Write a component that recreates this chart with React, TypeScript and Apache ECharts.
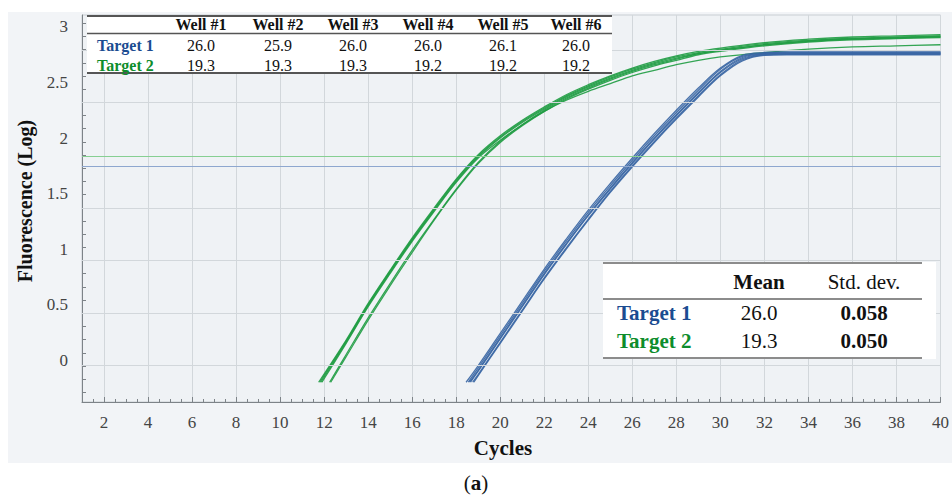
import React, { useEffect, useRef } from 'react';
import * as echarts from 'echarts';

// ---------- data ----------
const xTickLabels = [2, 4, 6, 8, 10, 12, 14, 16, 18, 20, 22, 24, 26, 28, 30, 32, 34, 36, 38, 40];
const yTickLabels = [0, 0.5, 1, 1.5, 2, 2.5, 3];
const yGridValues = [-0.054, 0.421, 0.896, 1.37, 1.845, 2.32, 2.795];

const thresholdTarget1 = 1.748;
const thresholdTarget2 = 1.838;
const startLevel = -0.2;

const wells = ['Well #1', 'Well #2', 'Well #3', 'Well #4', 'Well #5', 'Well #6'];
const target1Ct = [26.0, 25.9, 26.0, 26.0, 26.1, 26.0];
const target2Ct = [19.3, 19.3, 19.3, 19.2, 19.2, 19.2];

const summaryHeaders = ['Mean', 'Std. dev.'];
const target1Summary = ['26.0', '0.058'];
const target2Summary = ['19.3', '0.050'];

// Target 2 (green) amplification curves
const greenCycles = [13, 14, 15, 16, 17, 18, 19, 20, 21, 22, 23, 24, 25, 26, 27, 28, 29, 30, 32, 34, 36, 38, 40];
const greenStarts = [11.75, 11.8, 11.85, 11.9, 12.25, 12.3];
const greenWell1 = [0.18, 0.51, 0.81, 1.10, 1.37, 1.63, 1.85, 2.02, 2.16, 2.28, 2.39, 2.48, 2.56, 2.63, 2.69, 2.74, 2.78, 2.81, 2.86, 2.89, 2.91, 2.92, 2.93];
const greenWell2 = [0.17, 0.50, 0.80, 1.09, 1.36, 1.62, 1.84, 2.01, 2.15, 2.27, 2.38, 2.47, 2.55, 2.62, 2.68, 2.73, 2.77, 2.80, 2.85, 2.88, 2.90, 2.91, 2.92];
const greenWell3 = [0.16, 0.49, 0.79, 1.08, 1.35, 1.61, 1.83, 2.00, 2.14, 2.26, 2.37, 2.46, 2.54, 2.61, 2.67, 2.72, 2.76, 2.79, 2.84, 2.87, 2.89, 2.90, 2.91];
const greenWell4 = [0.15, 0.48, 0.78, 1.07, 1.34, 1.60, 1.82, 1.98, 2.12, 2.24, 2.34, 2.42, 2.49, 2.56, 2.61, 2.66, 2.70, 2.73, 2.77, 2.80, 2.82, 2.83, 2.84];
const greenWell5 = [0.05, 0.38, 0.69, 0.99, 1.27, 1.54, 1.78, 1.97, 2.12, 2.25, 2.36, 2.45, 2.53, 2.60, 2.66, 2.71, 2.76, 2.79, 2.84, 2.875, 2.895, 2.905, 2.915];
const greenWell6 = [0.03, 0.36, 0.67, 0.97, 1.26, 1.53, 1.77, 1.96, 2.11, 2.24, 2.35, 2.44, 2.52, 2.59, 2.65, 2.70, 2.75, 2.78, 2.83, 2.865, 2.885, 2.895, 2.905];

// Target 1 (blue) amplification curves
const blueCycles = [19, 20, 21, 22, 23, 24, 25, 26, 27, 28, 29, 30, 31, 32, 33, 35, 37, 40];
const blueStarts = [18.45, 18.55, 18.6, 18.65, 18.75, 18.8];
const blueWell1 = [-0.05, 0.24, 0.53, 0.82, 1.09, 1.35, 1.59, 1.82, 2.04, 2.25, 2.45, 2.63, 2.745, 2.77, 2.775, 2.775, 2.775, 2.775];
const blueWell2 = [-0.07, 0.22, 0.51, 0.80, 1.07, 1.33, 1.57, 1.80, 2.02, 2.23, 2.43, 2.62, 2.735, 2.765, 2.77, 2.77, 2.77, 2.77];
const blueWell3 = [-0.09, 0.20, 0.49, 0.78, 1.05, 1.31, 1.55, 1.78, 2.00, 2.21, 2.41, 2.60, 2.725, 2.76, 2.765, 2.765, 2.765, 2.765];
const blueWell4 = [-0.10, 0.19, 0.48, 0.77, 1.04, 1.30, 1.54, 1.77, 1.99, 2.20, 2.40, 2.59, 2.715, 2.755, 2.76, 2.76, 2.76, 2.76];
const blueWell5 = [-0.13, 0.16, 0.45, 0.74, 1.01, 1.27, 1.52, 1.75, 1.97, 2.18, 2.38, 2.57, 2.705, 2.75, 2.755, 2.755, 2.755, 2.755];
const blueWell6 = [-0.14, 0.15, 0.44, 0.73, 1.00, 1.26, 1.51, 1.74, 1.96, 2.17, 2.37, 2.56, 2.695, 2.745, 2.75, 2.75, 2.75, 2.75];

const greenWells = [greenWell1, greenWell2, greenWell3, greenWell4, greenWell5, greenWell6];
const blueWells = [blueWell1, blueWell2, blueWell3, blueWell4, blueWell5, blueWell6];

// ---------- styling ----------
const SERIF = '"Liberation Serif", "DejaVu Serif", serif';
const BLUE_TXT = '#1b4c91';
const GREEN_TXT = '#0d8d2c';
const GREEN_LINE = '#1f9c43';
const BLUE_LINE = '#3765a3';

const Y_MIN = -0.378;
const Y_MAX = 3.108;

export default function App() {
  const ref = useRef<HTMLDivElement>(null);

  useEffect(() => {
    document.body.style.margin = '0';
    if (!ref.current) return;
    const chart = echarts.init(ref.current, undefined, { renderer: 'svg' });

    const buildSeries = (name: string, start: number, cycles: number[], vals: number[], color: string) => ({
      type: 'line',
      name,
      xAxisIndex: 0,
      yAxisIndex: 0,
      data: [[start, startLevel], ...cycles.map((c, i) => [c, vals[i]])],
      smooth: 0.35,
      symbol: 'none',
      showSymbol: false,
      silent: true,
      lineStyle: { color, width: 1.3, opacity: 0.9 },
      z: 3,
    });

    const series: any[] = [];
    // gridlines + thresholds (reference lines across the plot)
    series.push({
      type: 'line',
      name: 'grid',
      data: [],
      silent: true,
      z: 1,
      markLine: {
        silent: true,
        symbol: 'none',
        label: { show: false },
        lineStyle: { color: '#d2d7db', width: 1, type: 'solid' },
        data: yGridValues.map((v) => ({ yAxis: v })),
      },
    });
    series.push({
      type: 'line',
      name: 'thresholds',
      data: [],
      silent: true,
      z: 2,
      markLine: {
        silent: true,
        symbol: 'none',
        label: { show: false },
        data: [
          { yAxis: thresholdTarget2, lineStyle: { color: '#86cf92', width: 1, type: 'solid' } },
          { yAxis: thresholdTarget1, lineStyle: { color: '#8ea7cf', width: 1, type: 'solid' } },
        ],
      },
    });
    greenWells.forEach((w, i) => series.push(buildSeries('Target 2 ' + wells[i], greenStarts[i], greenCycles, w, GREEN_LINE)));
    blueWells.forEach((w, i) => series.push(buildSeries('Target 1 ' + wells[i], blueStarts[i], blueCycles, w, BLUE_LINE)));

    // tick positions on the left axis (layout only)
    const gridStep = yGridValues[1] - yGridValues[0];
    const yTicks: number[] = [];
    for (let v = yGridValues[0] - gridStep; v < Y_MAX; v += gridStep / 4) {
      if (v > Y_MIN) yTicks.push(+v.toFixed(4));
    }
    const minorX: number[] = [];
    for (let c = 1.5; c < 40; c += 0.5) {
      if (!xTickLabels.includes(c)) minorX.push(c);
    }

    // ---------- graphic: panel, tables, titles ----------
    const g: any[] = [];
    g.push({ type: 'rect', z: -10, shape: { x: 8, y: 12, width: 944, height: 451 }, style: { fill: '#f2f4f7' } });
    const txt = (text: string, x: number, y: number, font: string, fill = '#111', align = 'center') => ({
      type: 'text',
      z: 60,
      x,
      y,
      style: { text, font, fill, align, verticalAlign: 'middle' },
    });
    const hline = (x1: number, x2: number, y: number, w: number, stroke = '#555') => ({
      type: 'line',
      z: 60,
      shape: { x1, y1: y, x2, y2: y },
      style: { stroke, lineWidth: w },
    });

    // top table
    const colX = [201, 278, 353, 428, 503, 576];
    g.push({ type: 'rect', z: 55, shape: { x: 87, y: 15, width: 525, height: 59 }, style: { fill: '#ffffff' } });
    g.push(hline(87, 612, 16, 2));
    g.push(hline(87, 612, 33.5, 1.5));
    g.push(hline(87, 612, 73, 2));
    wells.forEach((w, i) => g.push(txt(w, colX[i], 24.5, `bold 16px ${SERIF}`)));
    g.push(txt('Target 1', 97, 45, `bold 16px ${SERIF}`, BLUE_TXT, 'left'));
    g.push(txt('Target 2', 97, 65, `bold 16px ${SERIF}`, GREEN_TXT, 'left'));
    target1Ct.forEach((v, i) => g.push(txt(v.toFixed(1), colX[i], 45, `16px ${SERIF}`)));
    target2Ct.forEach((v, i) => g.push(txt(v.toFixed(1), colX[i], 65, `16px ${SERIF}`)));

    // bottom-right summary table
    const sumX = [759, 864];
    g.push({ type: 'rect', z: 55, shape: { x: 603, y: 262, width: 333, height: 97 }, style: { fill: '#ffffff' } });
    g.push(hline(603, 922, 263, 1.5, '#666'));
    g.push(hline(603, 922, 299, 1.5, '#666'));
    g.push(hline(603, 922, 358, 1.5, '#666'));
    summaryHeaders.forEach((h, i) => g.push(txt(h, sumX[i], 282, `${i === 0 ? 'bold ' : ''}21px ${SERIF}`)));
    g.push(txt('Target 1', 617, 313, `bold 21px ${SERIF}`, BLUE_TXT, 'left'));
    g.push(txt('Target 2', 617, 341, `bold 21px ${SERIF}`, GREEN_TXT, 'left'));
    g.push(txt(target1Summary[0], sumX[0], 313, `21px ${SERIF}`));
    g.push(txt(target1Summary[1], sumX[1], 313, `bold 21px ${SERIF}`));
    g.push(txt(target2Summary[0], sumX[0], 341, `21px ${SERIF}`));
    g.push(txt(target2Summary[1], sumX[1], 341, `bold 21px ${SERIF}`));

    // axis titles and caption
    g.push({
      type: 'text',
      z: 60,
      x: 25,
      y: 201,
      rotation: Math.PI / 2,
      style: { text: 'Fluorescence (Log)', font: `bold 20px ${SERIF}`, fill: '#111', align: 'center', verticalAlign: 'middle' },
    });
    g.push(txt('Cycles', 503, 448, `bold 21px ${SERIF}`));
    g.push({
      type: 'text',
      z: 60,
      x: 476,
      y: 483,
      style: {
        text: '{p|(}{b|a}{p|)}',
        align: 'center',
        verticalAlign: 'middle',
        rich: {
          p: { font: `21px ${SERIF}`, fill: '#111' },
          b: { font: `bold 21px ${SERIF}`, fill: '#111' },
        },
      },
    });

    const axisGray = '#7d8388';
    const option: any = {
      animation: false,
      backgroundColor: '#ffffff',
      grid: {
        left: 82,
        right: 10,
        top: 15,
        bottom: 93,
        show: true,
        backgroundColor: '#eff2f5',
        borderColor: '#c9ced3',
        borderWidth: 1,
      },
      xAxis: [
        {
          type: 'value',
          min: 1,
          max: 40,
          axisLine: { show: true, onZero: false, lineStyle: { color: axisGray } },
          axisTick: { show: true, inside: true, length: 5, customValues: xTickLabels, lineStyle: { color: axisGray } },
          axisLabel: { customValues: xTickLabels, fontFamily: SERIF, fontSize: 17, color: '#444', margin: 12 },
          splitLine: { show: true, lineStyle: { color: '#d2d7db', width: 1 } },
        },
        {
          type: 'value',
          min: 1,
          max: 40,
          position: 'bottom',
          axisLine: { show: false, onZero: false },
          axisTick: { show: true, inside: true, length: 3, customValues: minorX, lineStyle: { color: axisGray } },
          axisLabel: { show: false },
          splitLine: { show: false },
        },
      ],
      yAxis: [
        {
          type: 'value',
          min: Y_MIN,
          max: Y_MAX,
          axisLine: { show: true, onZero: false, lineStyle: { color: axisGray } },
          axisTick: { show: true, inside: true, length: 4, customValues: yTicks, lineStyle: { color: axisGray } },
          axisLabel: {
            customValues: yTickLabels,
            formatter: (v: number) => String(v),
            fontFamily: SERIF,
            fontSize: 17,
            color: '#444',
            margin: 14,
          },
          splitLine: { show: false },
        },
      ],
      series,
      graphic: g,
    };

    chart.setOption(option);
    return () => chart.dispose();
  }, []);

  return <div ref={ref} style={{ width: 952, height: 495 }} />;
}
